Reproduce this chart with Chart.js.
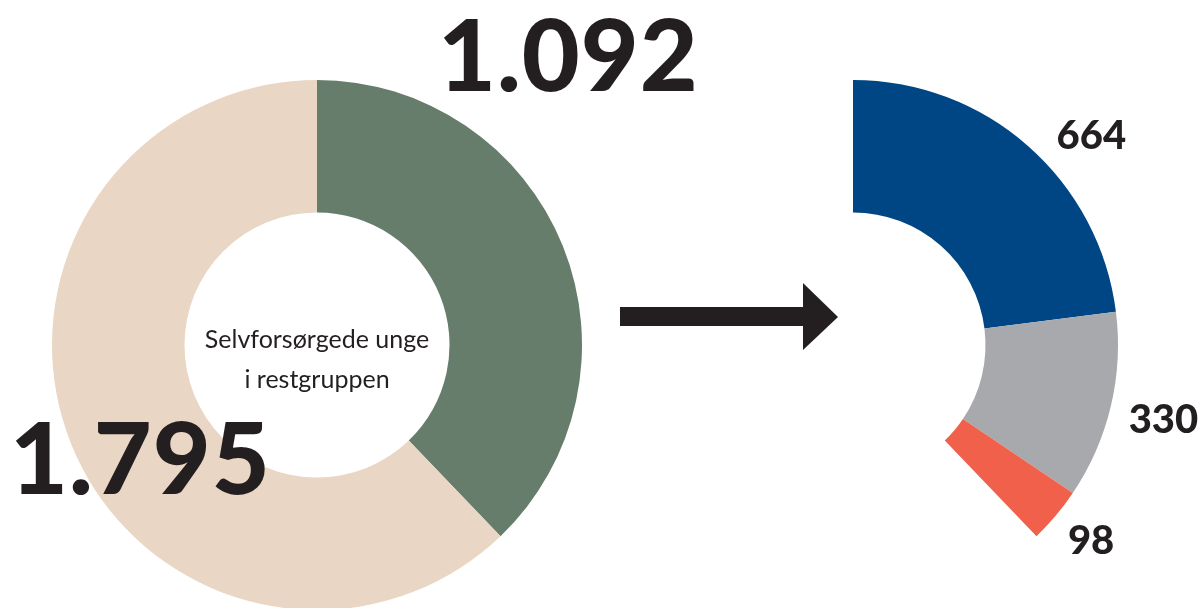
<!DOCTYPE html>
<html>
<head>
<meta charset="utf-8">
<script src="https://cdn.jsdelivr.net/npm/chart.js@4.4.1/dist/chart.umd.min.js"></script>
<style>
  html, body { margin: 0; padding: 0; background: #fff; width: 1202px; height: 608px; overflow: hidden; }
  #wrap { position: relative; width: 1202px; height: 608px; }
  canvas { position: absolute; }
  .big { position: absolute; font-family: 'Lato', sans-serif; font-weight: 900; color: #231f20; font-size: 100px; line-height: 1; letter-spacing: 1px; }
  .center { position: absolute; left: 177px; top: 318px; width: 280px; text-align: center; font-family: 'Lato', sans-serif; font-size: 25px; line-height: 40px; color: #231f20; }
</style>
</head>
<body>
<div id="wrap">
  <canvas id="venstre" width="530" height="530" style="left:52px; top:80px;"></canvas>
  <svg style="position:absolute; left:620px; top:283px;" width="220" height="68">
    <rect x="0" y="24" width="186" height="19" fill="#231f20"></rect>
    <polygon points="183,0 218,34 183,67" fill="#231f20"></polygon>
  </svg>
  <canvas id="hoejre" width="614" height="530" style="left:588px; top:80px;"></canvas>
  <div class="big" id="tal1" style="left:438px; top:2px;"></div>
  <div class="big" id="tal2" style="left:10px; top:405px;"></div>
  <div class="center">Selvforsørgede unge<br>i restgruppen</div>
</div>
<script>
// Selvforsørgede unge: restgruppen vs. resten
const grupper = ['Restgruppen', 'Øvrige'];
const antal = [1092, 1795];
const farver = ['#667d6c', '#ead6c4'];

// opdeling af restgruppen
const opdeling = ['Gruppe 1', 'Gruppe 2', 'Gruppe 3'];
const opdelingAntal = [664, 330, 98];
const opdelingFarver = ['#004685', '#a7a9ac', '#f0604b'];

const fmt = (v) => v.toLocaleString('da-DK');
document.getElementById('tal1').textContent = fmt(antal[0]);
document.getElementById('tal2').textContent = fmt(antal[1]);

const ctx = document.getElementById('venstre').getContext('2d');
const venstreChart = new Chart(ctx, {
  type: 'doughnut',
  data: {
    labels: grupper,
    datasets: [{
      data: antal,
      backgroundColor: farver,
      borderWidth: 0
    }]
  },
  options: {
    responsive: false,
    animation: false,
    cutout: '50%',
    plugins: {
      legend: { display: false },
      tooltip: { enabled: false }
    }
  }
});

// labels ved hver bue
const nudge = [[30, 27], [4, 2], [-3, -7]];
const labelPlugin = {
  id: 'buelabels',
  afterDatasetsDraw(chart) {
    const c = chart.ctx;
    const meta = chart.getDatasetMeta(0);
    c.save();
    c.font = '900 40px Lato';
    c.fillStyle = '#231f20';
    c.textAlign = 'center';
    c.textBaseline = 'middle';
    meta.data.forEach(function (arc, i) {
      if (i >= opdelingAntal.length) return;
      const mid = (arc.startAngle + arc.endAngle) / 2;
      const r = arc.outerRadius + 50;
      const x = arc.x + Math.cos(mid) * r + nudge[i][0];
      const y = arc.y + Math.sin(mid) * r + nudge[i][1];
      c.fillText(opdelingAntal[i], x, y);
    });
    c.restore();
  }
};

const ctx2 = document.getElementById('hoejre').getContext('2d');
const hoejreChart = new Chart(ctx2, {
  type: 'doughnut',
  data: {
    labels: [...opdeling, ''],
    datasets: [{
      data: [...opdelingAntal, antal[1]],
      backgroundColor: [...opdelingFarver, 'rgba(0,0,0,0)'],
      borderWidth: 0
    }]
  },
  options: {
    responsive: false,
    animation: false,
    cutout: '50%',
    layout: { padding: { right: 84 } },
    plugins: {
      legend: { display: false },
      tooltip: { enabled: false }
    }
  },
  plugins: [labelPlugin]
});
</script>
</body>
</html>
